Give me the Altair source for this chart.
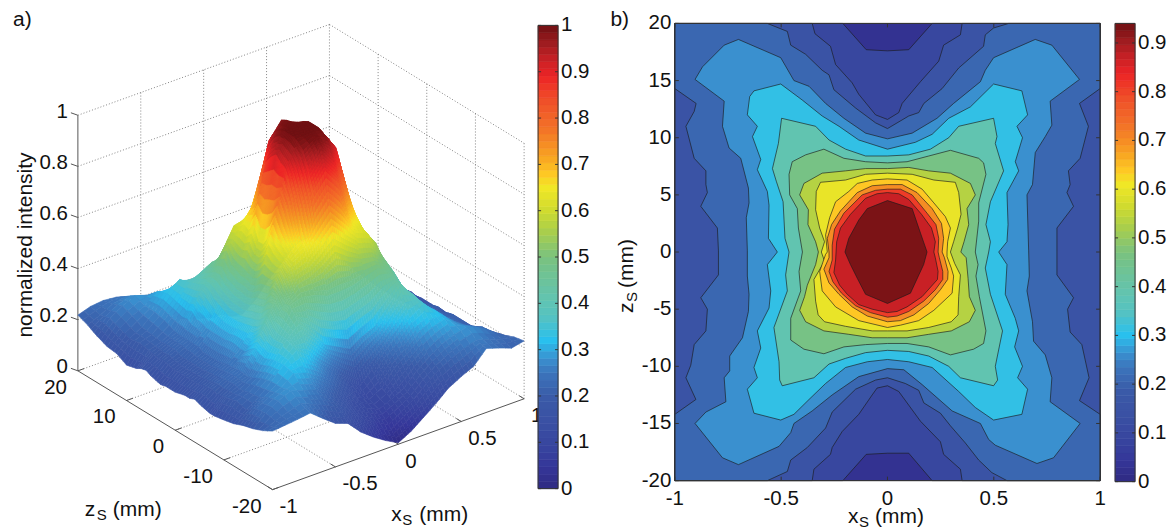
import altair as alt
import pandas as pd
import numpy as np

# ---------- colour map (value on 0..1 -> colour)
CMAP_VALUES = [0, .05, .1, .15, .2, .25, .28, .32, .37, .4, .45, .5, .55, .6, .65, .68, .72, .78, .84, .89, .93, .96, 1]
CMAP_COLORS = ["#2f2a82", "#35379a", "#38479f", "#3a51a4", "#3a5ba8", "#3b75bc", "#3a90cf", "#29c0ee", "#55c2c2",
               "#5fc4b5", "#6cc39b", "#7ac27f", "#a5cd4f", "#cfdb2f", "#f1e726", "#fec824", "#f7a022", "#f37028",
               "#ef4e29", "#ed2426", "#c32025", "#a01c20", "#6e1012"]
CS = alt.Scale(domain=CMAP_VALUES, range=CMAP_COLORS, interpolate="rgb", clamp=True)
MAX_B = 0.94

# ---------- surface samples of normalized intensity
XS = [-1, -.9, -.8, -.7, -.6, -.5, -.4, -.3, -.2, -.1, 0, .1, .2, .3, .4, .5, .6, .7, .8, .9, 1]
ZS = [20, 18, 16, 14, 12, 10, 8, 7, 6, 5, 4, 3, 2, 1, 0, -1, -2, -3, -4, -5, -6, -7, -8, -10, -12, -14, -16, -18, -20]
SURFACE = [
 [.205,.22,.225,.22,.2,.175,.14,.105,.06,.04,.03,.04,.065,.11,.145,.18,.205,.215,.22,.215,.2],
 [.19,.21,.235,.245,.225,.205,.18,.15,.105,.07,.05,.075,.11,.15,.185,.21,.23,.245,.23,.21,.185],
 [.17,.22,.25,.27,.255,.24,.205,.175,.13,.105,.09,.11,.13,.18,.21,.245,.26,.27,.25,.22,.17],
 [.155,.205,.235,.255,.29,.275,.24,.205,.165,.125,.10,.125,.17,.21,.245,.28,.295,.26,.24,.205,.15],
 [.15,.19,.215,.255,.305,.34,.305,.255,.22,.165,.13,.165,.22,.26,.31,.34,.31,.26,.22,.19,.135],
 [.13,.195,.21,.245,.295,.35,.375,.345,.295,.265,.24,.27,.30,.35,.38,.355,.30,.25,.215,.195,.125],
 [.14,.19,.205,.23,.285,.365,.43,.43,.415,.41,.41,.415,.42,.435,.435,.37,.29,.235,.21,.19,.13],
 [.15,.185,.205,.225,.295,.375,.445,.49,.50,.505,.51,.505,.50,.495,.45,.38,.30,.23,.21,.185,.14],
 [.155,.18,.205,.225,.275,.365,.485,.57,.58,.64,.68,.64,.585,.575,.49,.37,.28,.23,.21,.18,.135],
 [.145,.185,.205,.225,.275,.345,.505,.575,.625,.78,.83,.78,.63,.58,.51,.35,.28,.23,.21,.185,.14],
 [.14,.18,.195,.225,.265,.335,.465,.595,.68,.87,.93,.87,.68,.60,.47,.34,.27,.23,.20,.18,.135],
 [.135,.175,.195,.225,.265,.325,.455,.585,.74,.91,.94,.91,.74,.59,.46,.33,.27,.23,.20,.175,.14],
 [.14,.175,.195,.215,.265,.315,.445,.615,.83,.93,.94,.93,.83,.62,.45,.32,.27,.22,.20,.175,.135],
 [.14,.175,.195,.215,.265,.315,.445,.565,.86,.94,.94,.94,.86,.57,.45,.32,.27,.22,.20,.175,.14],
 [.14,.175,.195,.215,.265,.315,.435,.565,.88,.94,.94,.94,.88,.57,.44,.32,.27,.22,.20,.175,.14],
 [.145,.175,.195,.215,.27,.32,.44,.60,.86,.94,.94,.94,.87,.62,.44,.325,.27,.22,.195,.175,.14],
 [.15,.175,.20,.22,.27,.325,.46,.66,.85,.93,.94,.93,.86,.66,.46,.33,.27,.22,.195,.175,.135],
 [.15,.18,.20,.225,.265,.33,.465,.62,.79,.91,.94,.91,.80,.62,.46,.33,.27,.225,.20,.18,.14],
 [.158,.185,.205,.225,.265,.34,.47,.60,.70,.86,.92,.86,.70,.60,.47,.34,.265,.225,.205,.185,.135],
 [.15,.19,.21,.23,.285,.36,.505,.575,.62,.78,.84,.78,.62,.575,.51,.36,.285,.23,.21,.19,.14],
 [.145,.18,.21,.23,.30,.40,.47,.565,.59,.645,.70,.645,.59,.57,.48,.40,.30,.235,.21,.18,.135],
 [.14,.185,.21,.225,.29,.37,.44,.495,.505,.53,.565,.53,.505,.495,.46,.38,.29,.23,.21,.19,.14],
 [.14,.19,.205,.23,.285,.36,.445,.46,.45,.43,.43,.435,.45,.465,.44,.36,.29,.235,.21,.195,.135],
 [.147,.20,.215,.25,.30,.36,.40,.35,.29,.265,.24,.27,.29,.345,.40,.36,.30,.25,.215,.195,.125],
 [.155,.19,.22,.26,.305,.34,.305,.255,.215,.165,.125,.17,.22,.26,.31,.34,.305,.26,.22,.195,.14],
 [.17,.215,.24,.26,.295,.28,.25,.215,.175,.125,.10,.125,.18,.215,.255,.28,.295,.26,.235,.215,.165],
 [.18,.22,.25,.27,.255,.24,.205,.17,.13,.105,.085,.105,.13,.175,.21,.24,.26,.27,.25,.22,.19],
 [.195,.215,.23,.245,.225,.205,.18,.145,.105,.075,.05,.08,.11,.15,.185,.21,.23,.245,.23,.215,.205],
 [.215,.22,.225,.232,.195,.16,.143,.095,.06,.03,.005,.03,.065,.10,.14,.165,.187,.235,.22,.203,.213],
]

# ---------- filled contour regions: value of the band and its (xs, zs) outline
BAND_VALUES = [.095, .15, .21, .263, .31, .385, .46, .535, .6, .64, .70, .81, .87, .93]
BASE_VALUE = .03
C01 = [(-1,20),(-.21,20),(-.10,17.7),(0,17.6),(.10,17.7),(.21,20),(1,20),(1,-20),(.21,-20),(.10,-17.6),(0,-17.6),(-.10,-17.7),(-.21,-20),(-1,-20)]
C02 = [(-1,20),(-.354,20),(-.341,19.1),(-.268,18),(-.244,16.4),(-.166,14.8),(-.135,13.8),(-.056,12),(0,11.6),(.053,12.2),(.069,13),(.155,14.9),(.241,16.7),(.264,18.1),(.343,19),(.351,20),(1,20),(1,-20),(.351,-20),(.343,-19),(.264,-17.7),(.249,-16.6),(.155,-14.8),(.053,-12.2),(0,-11.7),(-.049,-11.9),(-.072,-12.5),(-.135,-14.2),(-.213,-15.7),(-.26,-17.1),(-.268,-17.7),(-.346,-19),(-.354,-20),(-1,-20)]
C03 = [(-1,20),(-.565,20),(-.471,19.3),(-.455,18.1),(-.385,17.3),(-.307,15.9),(-.275,15.5),(-.252,14.2),(-.15,12.6),(-.056,11.3),(0,10.8),(.10,11.9),(.147,12.2),(.171,13),(.257,14.3),(.335,16.1),(.452,18),(.46,19),(.499,19.6),(.57,20),(1,20),(1,14.3),(.903,13),(.945,11),(.906,8.2),(.851,7.1),(.859,5.9),(.844,5.2),(.875,4),(.797,2.1),(.797,.1),(.797,-2),(.875,-4),(.847,-5),(.859,-7),(.914,-8.1),(.948,-11),(.903,-13),(1,-14.2),(1,-20),(.562,-20),(.491,-19.3),(.429,-18.2),(.366,-16.7),(.296,-15.2),(.249,-14.1),(.171,-13.2),(.147,-12.1),(.084,-11.5),(0,-11),(-.056,-11.2),(-.15,-12),(-.26,-14),(-.291,-15.4),(-.377,-17.1),(-.455,-18.2),(-.471,-19.2),(-.565,-20),(-1,-20),(-1,-14.2),(-.901,-12.9),(-.948,-11),(-.925,-9.9),(-.909,-8.1),(-.854,-6.9),(-.847,-5),(-.878,-4),(-.795,-2),(-.795,.1),(-.80,2.1),(-.878,4),(-.847,5.2),(-.854,5.9),(-.854,7.1),(-.909,8.2),(-.948,11),(-.909,12.3),(-.90,13),(-1,14.3)]
C04 = [(-.905,15.1),(-.87,16.2),(-.768,18.1),(-.701,18.6),(-.502,17),(-.44,15),(-.369,14.5),(-.291,13),(-.205,11.7),(-.103,10.4),(0,9.9),(.116,10.4),(.233,11.7),(.311,13),(.437,14.9),(.46,15.9),(.499,17),(.695,18.6),(.773,18.1),(.903,15.1),(.765,13.2),(.773,11.1),(.742,10.1),(.695,8.7),(.682,5.9),(.656,5),(.664,.1),(.667,-2.1),(.656,-3.4),(.682,-6.1),(.687,-7.8),(.742,-9),(.773,-11),(.765,-13.1),(.906,-15),(.781,-18),(.703,-18.5),(.507,-16.9),(.476,-16.4),(.437,-15),(.304,-13.9),(.163,-11.6),(.077,-10.3),(0,-10.2),(-.135,-10.9),(-.26,-12.5),(-.354,-13.9),(-.44,-15),(-.455,-15.8),(-.51,-17),(-.701,-18.6),(-.776,-18),(-.905,-15),(-.854,-14),(-.76,-13.1),(-.768,-11),(-.742,-10.4),(-.742,-9.1),(-.682,-7.5),(-.654,-5.2),(-.651,-3.7),(-.659,-2.1),(-.659,.1),(-.664,3),(-.651,4.3),(-.654,5.6),(-.69,8.2),(-.745,9.1),(-.776,11),(-.768,13.2)]
C05 = [(-.628,14.1),(-.502,14.7),(-.401,13.3),(-.307,11.9),(-.228,11),(-.135,9.8),(0,9),(.131,9.6),(.21,10.3),(.288,11.7),(.39,12.7),(.499,14.7),(.632,14.1),(.659,12),(.609,11),(.635,10),(.601,7.9),(.617,7.1),(.562,5.2),(.567,2.4),(.562,.9),(.523,0),(.562,-1.1),(.554,-3.7),(.601,-5.8),(.617,-6.9),(.598,-8.3),(.635,-10),(.612,-11),(.659,-12),(.632,-14.2),(.499,-14.7),(.413,-13.6),(.335,-12.2),(.21,-10.1),(.10,-9.6),(0,-9.4),(-.095,-9.6),(-.197,-10.1),(-.291,-11.5),(-.369,-12.9),(-.44,-14.2),(-.502,-14.7),(-.628,-14.1),(-.659,-12),(-.612,-11),(-.628,-10.1),(-.596,-8.4),(-.612,-6.9),(-.557,-4.9),(-.549,-3.4),(-.565,-1.1),(-.518,0),(-.56,1.2),(-.557,4.1),(-.565,5.3),(-.612,7.2),(-.596,8.1),(-.635,10.1),(-.612,11),(-.659,12),(-.648,13.6)]
C06 = [(-.498,11.7),(-.338,11),(-.275,9.8),(-.197,9),(-.103,8.4),(0,8.4),(.10,8.5),(.202,9),(.288,10),(.335,11),(.499,11.7),(.515,10.1),(.507,9.5),(.546,7.1),(.484,4.4),(.463,2.4),(.484,.9),(.476,0),(.46,-1.4),(.484,-3.7),(.541,-6.9),(.507,-10),(.518,-11.2),(.499,-11.7),(.343,-11),(.288,-10),(.194,-9.1),(.10,-8.7),(0,-8.6),(-.103,-8.8),(-.197,-9.3),(-.275,-9.8),(-.346,-11),(-.495,-11.7),(-.507,-11.2),(-.51,-9.6),(-.534,-6.6),(-.471,-3.4),(-.479,-2),(-.463,0),(-.482,1.2),(-.491,4.4),(-.523,6.2),(-.541,7.3),(-.513,9.5)]
C07 = [(-.448,7.9),(-.385,8.5),(-.299,9),(-.205,8.2),(-.103,7.9),(0,7.8),(.092,7.9),(.194,8.4),(.296,8.9),(.429,8.2),(.452,7.8),(.463,6.8),(.429,4.3),(.429,2.7),(.413,0),(.426,-1.1),(.416,-2.1),(.432,-3.9),(.463,-6.9),(.452,-8),(.405,-8.5),(.296,-9),(.194,-8.3),(.092,-8),(0,-8),(-.103,-8.1),(-.205,-8.3),(-.299,-8.9),(-.393,-8.5),(-.455,-7.7),(-.455,-5.8),(-.408,-3.4),(-.416,-1.7),(-.40,0),(-.419,2.1),(-.424,3.8),(-.46,5),(-.463,6.8)]
C08 = [(-.393,6),(-.307,6.9),(-.197,7.1),(-.103,7.3),(0,7.3),(.10,7.4),(.194,7.1),(.296,6.9),(.39,6),(.413,5),(.374,3.8),(.382,2.4),(.36,.9),(.345,0),(.37,-.5),(.379,-2.3),(.385,-3.9),(.413,-5.1),(.385,-6.1),(.30,-6.9),(.194,-7.2),(.092,-7.5),(0,-7.5),(-.072,-7.5),(-.182,-7.2),(-.299,-6.9),(-.385,-6.1),(-.413,-5.1),(-.39,-3.9),(-.377,-2.9),(-.338,-1.1),(-.325,0),(-.338,.9),(-.374,2.4),(-.372,3.7),(-.413,5)]
C09 = [(-.315,6.1),(-.197,6.3),(-.103,6.8),(0,6.9),(.116,6.8),(.218,6.3),(.319,6.1),(.335,5.2),(.346,3.3),(.33,2.1),(.311,.9),(.296,0),(.316,-1),(.343,-2),(.335,-3.9),(.332,-5.5),(.30,-6.1),(.194,-6.6),(.092,-6.9),(0,-6.9),(-.072,-6.9),(-.197,-6.5),(-.296,-6.1),(-.326,-5.5),(-.338,-4.3),(-.346,-2.4),(-.296,-.8),(-.311,0),(-.296,.9),(-.319,2.1),(-.338,3.7),(-.335,5.3)]
C10 = [(-.142,6),(-.072,6.3),(0,6.4),(.092,6.3),(.163,5.5),(.218,4.3),(.272,3.1),(.296,2.1),(.283,.9),(.28,0),(.28,-.4),(.30,-1.4),(.311,-2.1),(.304,-3.6),(.218,-5.1),(.147,-6),(.061,-6.4),(0,-6.6),(-.135,-6),(-.244,-4.8),(-.307,-3.4),(-.319,-1.7),(-.291,-.2),(-.283,0),(-.291,1.5),(-.272,3),(-.244,4.4),(-.182,5.3)]
C11 = [(-.142,5.2),(-.072,5.8),(0,5.9),(.069,5.9),(.139,5.2),(.21,3.8),(.254,2.5),(.264,1.2),(.257,0),(.268,-.5),(.285,-1.7),(.283,-2.4),(.249,-3.3),(.194,-4.5),(.124,-5.5),(.061,-6),(0,-6.1),(-.095,-5.6),(-.166,-4.8),(-.228,-3.7),(-.275,-2.7),(-.299,-1.5),(-.275,-.5),(-.275,0),(-.283,1.2),(-.263,2.4),(-.221,3.6)]
C12 = [(-.119,5),(-.056,5.4),(0,5.5),(.061,5.5),(.116,5),(.186,3.4),(.228,2.4),(.241,1.2),(.238,0),(.244,-.5),(.26,-1.7),(.26,-2.4),(.225,-3.3),(.17,-4.3),(.10,-5.2),(.045,-5.6),(0,-5.7),(-.08,-5.3),(-.15,-4.7),(-.216,-3.6),(-.257,-2.6),(-.275,-1.7),(-.26,-.7),(-.26,.6),(-.249,2),(-.205,3.4)]
C13 = [(-.103,4.7),(-.049,5.1),(0,5.2),(.053,5.1),(.10,4.6),(.16,3.3),(.207,2.1),(.225,.9),(.218,0),(.225,-.5),(.238,-1.7),(.235,-2.4),(.163,-3.9),(.092,-4.8),(.045,-5.2),(0,-5.3),(-.072,-5),(-.135,-4.6),(-.189,-3.7),(-.225,-2.9),(-.252,-1.8),(-.244,-.7),(-.239,.9),(-.221,2.1),(-.174,3.3)]
C14 = [(-.095,3.8),(0,4.5),(.116,3.8),(.147,2.1),(.186,0),(.17,-1.1),(.108,-3.6),(0,-4.5),(-.103,-3.7),(-.142,-2.3),(-.174,-1.1),(-.20,0),(-.182,1.2),(-.135,2.8)]
CONTOURS = [C01, C02, C03, C04, C05, C06, C07, C08, C09, C10, C11, C12, C13, C14]

# ---------- tick labels
I_TICKS = [0, .2, .4, .6, .8, 1]
ZS_TICKS = [20, 10, 0, -10, -20]
XS_TICKS = [-1, -.5, 0, .5, 1]
BAR_TICKS = [0, .1, .2, .3, .4, .5, .6, .7, .8, .9]
B_ZTICKS = [-20, -15, -10, -5, 0, 5, 10, 15, 20]
FONT = "Liberation Sans"
INK = "#333333"
TICK_FS = 20.5
TITLE_FS = 21
SUB_FS = 15

# ---------- oblique view of the 3-D box, in page pixels
FRONT = np.array([273.0, 489.0])   # xs=-1, zs=-20, I=0
PER_XS = np.array([126.0, -45.5])
PER_ZS = np.array([-4.875, -2.975])
PER_I = np.array([0.0, -256.0])

def proj(xs, zs, i=0.0):
    p = FRONT + PER_XS * (xs + 1) + PER_ZS * (zs + 20) + PER_I * i
    return float(p[0]), float(p[1])

SX = alt.Scale(domain=[8, 539], range=[0, 531])
SY = alt.Scale(domain=[22, 480], range=[0, 458])
PX = alt.X("x:Q", scale=SX, axis=None)
PY = alt.Y("y:Q", scale=SY, axis=None)

# surface facets, back to front; each cell between samples is painted in fine
# facets to render interpolated shading over the read samples
rows = []
qid = 0
def blend(a, b, c, d, u, v):
    return (a * (1 - u) + b * u) * (1 - v) + (d * (1 - u) + c * u) * v

for r in range(len(ZS) - 1):
    for c in range(len(XS) - 2, -1, -1):
        za, zb, zc, zd = SURFACE[r][c], SURFACE[r][c + 1], SURFACE[r + 1][c + 1], SURFACE[r + 1][c]
        spread = (max(za, zb, zc, zd) - min(za, zb, zc, zd)) / MAX_B
        n = int(min(6, max(2, np.ceil(spread / 0.025))))
        for jv in range(n):
            for ju in range(n - 1, -1, -1):
                uv = [(ju / n, jv / n), ((ju + 1) / n, jv / n), ((ju + 1) / n, (jv + 1) / n), (ju / n, (jv + 1) / n)]
                vals = [blend(za, zb, zc, zd, u, v) / MAX_B for u, v in uv]
                mean = sum(vals) / 4
                for k, ((u, v), h) in enumerate(zip(uv + uv[:1], vals + vals[:1])):
                    x, y = proj(XS[c] + u * (XS[c + 1] - XS[c]), ZS[r] + v * (ZS[r + 1] - ZS[r]), h)
                    rows.append({"x": round(x, 1), "y": round(y, 1), "q": qid, "k": k, "c": round(mean, 3)})
                qid += 1
surf = alt.Chart(pd.DataFrame(rows)).mark_line(strokeWidth=0.6, strokeJoin="round").encode(
    x=PX, y=PY, detail="q:N", order="k:Q",
    fill=alt.Fill("c:Q", scale=CS, legend=None),
    stroke=alt.Stroke("c:Q", scale=CS, legend=None))

def polyline_rows(segments):
    out = []
    for sid, seg in enumerate(segments):
        for k, (x, y) in enumerate(seg):
            out.append({"x": x, "y": y, "s": sid, "k": k})
    return pd.DataFrame(out)

# dotted box grid
seg = []
for i in I_TICKS:
    seg.append([proj(-1, 20, i), proj(1, 20, i)])
    seg.append([proj(1, 20, i), proj(1, -20, i)])
for xs in XS_TICKS[1:]:
    seg.append([proj(xs, 20, 0), proj(xs, 20, 1)])
for zs in ZS_TICKS[1:]:
    seg.append([proj(1, zs, 0), proj(1, zs, 1)])
for xs in XS_TICKS[1:-1]:
    seg.append([proj(xs, -20, 0), proj(xs, 20, 0)])
for zs in ZS_TICKS[1:-1]:
    seg.append([proj(-1, zs, 0), proj(1, zs, 0)])
grid = alt.Chart(polyline_rows(seg)).mark_line(color="#777777", strokeWidth=0.9, strokeDash=[1, 2]).encode(
    x=PX, y=PY, detail="s:N", order="k:Q")

# solid box axes with their ticks
seg = [[proj(-1, 20, 1), proj(-1, 20, 0), proj(-1, -20, 0), proj(1, -20, 0)]]
for i in I_TICKS:
    p = proj(-1, 20, i)
    seg.append([p, (p[0] - 7, p[1] - 2.5)])
for zs in ZS_TICKS:
    seg.append([proj(-1, zs), proj(-0.95, zs)])
for xs in XS_TICKS:
    seg.append([proj(xs, -20), proj(xs, -19)])
axes3d = alt.Chart(polyline_rows(seg)).mark_line(color="#555555", strokeWidth=1).encode(
    x=PX, y=PY, detail="s:N", order="k:Q")

def text_layer(items, align, baseline="middle", size=TICK_FS, angle=None):
    kw = dict(align=align, baseline=baseline, font=FONT, fontSize=size, color="#111111")
    if angle is not None:
        kw["angle"] = angle
    df = pd.DataFrame([{"x": x, "y": y, "t": t} for x, y, t in items])
    return alt.Chart(df).mark_text(**kw).encode(x=PX, y=PY, text="t:N")

right_items = []
for i in I_TICKS:
    p = proj(-1, 20, i)
    right_items.append((p[0] - 10, p[1] - 3.5, f"{i:g}"))
for zs in ZS_TICKS:
    p = proj(-1, zs)
    right_items.append((p[0] - 11, p[1] + 17, f"{zs:g}"))
left_items = []
for xs in XS_TICKS:
    p = proj(xs, -20)
    left_items.append((p[0] + 7, p[1] + 17.5, f"{xs:g}"))

t_right = text_layer(right_items, "right")
t_left = text_layer(left_items, "left")
t_misc = text_layer([(13, 25, "a)"), (85, 515, "z"), (113, 515, "(mm)"), (392, 520.5, "x"), (420, 520.5, "(mm)")],
                    "left", baseline="alphabetic", size=TITLE_FS)
t_sub = text_layer([(97, 519, "S"), (403, 524, "S")], "left", baseline="alphabetic", size=SUB_FS)
t_y = text_layer([(32, 244, "normalized intensity")], "center", baseline="alphabetic", size=TITLE_FS, angle=270)

left = alt.layer(grid, axes3d, surf, t_right, t_left, t_misc, t_sub, t_y).properties(width=531, height=458)

# ---------- colour bars
def colorbar(top_value, h, rng, ticks, cmap_div):
    edges = np.linspace(0, top_value, 65)
    df = pd.DataFrame({"lo": edges[:-1], "hi": edges[1:]})
    df["mid"] = (df.lo + df.hi) / 2 / cmap_div
    sc = alt.Scale(domain=[0, top_value], range=rng, nice=False, zero=False)
    Y = alt.Y("lo:Q", scale=sc, axis=None)
    bands = alt.Chart(df).mark_rect(strokeWidth=0.6).encode(
        y=Y, y2="hi:Q", x=alt.value(0), x2=alt.value(20),
        color=alt.Color("mid:Q", scale=CS, legend=None),
        stroke=alt.Stroke("mid:Q", scale=CS, legend=None))
    tk = pd.DataFrame({"v": ticks, "t": [f"{v:g}" for v in ticks]})
    Yt = alt.Y("v:Q", scale=sc, axis=None)
    t1 = alt.Chart(tk).mark_rule(color=INK, strokeWidth=1).encode(y=Yt, x=alt.value(0), x2=alt.value(3))
    t2 = alt.Chart(tk).mark_rule(color=INK, strokeWidth=1).encode(y=Yt, x=alt.value(17), x2=alt.value(20))
    lab = alt.Chart(tk).mark_text(align="left", baseline="middle", font=FONT, fontSize=TICK_FS, color="#111111").encode(
        y=Yt, x=alt.value(23), text="t:N")
    fr = pd.DataFrame({"a": [0], "b": [top_value]})
    frame = alt.Chart(fr).mark_rect(fill=None, stroke=INK, strokeWidth=1).encode(
        y=alt.Y("a:Q", scale=sc, axis=None), y2="b:Q", x=alt.value(0), x2=alt.value(20))
    return alt.layer(bands, t1, t2, frame, lab).properties(width=20, height=h)

cb1 = colorbar(1, 466, [466, 2], BAR_TICKS + [1], 1)
cb2 = colorbar(MAX_B, 459, [459, 0], BAR_TICKS, MAX_B)

# ---------- contour panel
BW, BH = 426, 458
BX = alt.Scale(domain=[-1, 1], nice=False, zero=False)
BZ = alt.Scale(domain=[-20, 20], nice=False, zero=False)
rows = []
for k, (px, pz) in enumerate([(-1, -20), (1, -20), (1, 20), (-1, 20), (-1, -20)]):
    rows.append({"xs": px, "zs": pz, "band": 0, "k": k, "v": BASE_VALUE / MAX_B})
for b, poly in enumerate(CONTOURS, start=1):
    for k, (px, pz) in enumerate(list(poly) + [poly[0]]):
        rows.append({"xs": px, "zs": pz, "band": b, "k": k, "v": BAND_VALUES[b - 1] / MAX_B})
poly_chart = alt.Chart(pd.DataFrame(rows)).mark_line(stroke="#1a1a1a", strokeWidth=0.75, strokeOpacity=0.85).encode(
    x=alt.X("xs:Q", scale=BX, axis=None), y=alt.Y("zs:Q", scale=BZ, axis=None),
    detail="band:N", order="k:Q", fill=alt.Fill("v:Q", scale=CS, legend=None))
xt = pd.DataFrame({"v": XS_TICKS, "t": [f"{v:g}" for v in XS_TICKS]})
yt = pd.DataFrame({"v": B_ZTICKS, "t": [f"{v:g}" for v in B_ZTICKS]})
XT = alt.X("v:Q", scale=BX, axis=None)
YT = alt.Y("v:Q", scale=BZ, axis=None)
ticks_b = [
    alt.Chart(xt).mark_rule(color=INK).encode(x=XT, y=alt.value(BH), y2=alt.value(BH - 4)),
    alt.Chart(xt).mark_rule(color=INK).encode(x=XT, y=alt.value(0), y2=alt.value(4)),
    alt.Chart(yt).mark_rule(color=INK).encode(y=YT, x=alt.value(0), x2=alt.value(4)),
    alt.Chart(yt).mark_rule(color=INK).encode(y=YT, x=alt.value(BW), x2=alt.value(BW - 4)),
    alt.Chart(xt).mark_text(align="center", baseline="middle", font=FONT, fontSize=TICK_FS, color="#111111").encode(
        x=XT, y=alt.value(BH + 18), text="t:N"),
    alt.Chart(yt).mark_text(align="right", baseline="middle", font=FONT, fontSize=TICK_FS, color="#111111").encode(
        y=YT, x=alt.value(-3.5), text="t:N"),
]
frame_b = alt.Chart(pd.DataFrame({"a": [-1], "b": [1], "c": [-20], "d": [20]})).mark_rect(
    fill=None, stroke=INK, strokeWidth=1).encode(x=alt.X("a:Q", scale=BX, axis=None), x2="b:Q",
                                                 y=alt.Y("c:Q", scale=BZ, axis=None), y2="d:Q")

def value_text(items, size=TITLE_FS, align="left", angle=None):
    kw = dict(align=align, baseline="alphabetic", font=FONT, fontSize=size, color="#111111")
    if angle is not None:
        kw["angle"] = angle
    layers = []
    for x, y, t in items:
        layers.append(alt.Chart(pd.DataFrame({"t": [t]})).mark_text(**kw).encode(
            x=alt.value(x), y=alt.value(y), text="t:N"))
    return layers

OX, OY = 675.5, 22
txt_b = (value_text([(611 - OX, 25 - OY, "b)"), (849 - OX, 522 - OY, "x"), (876 - OX, 522 - OY, "(mm)")])
         + value_text([(860 - OX, 526 - OY, "S")], size=SUB_FS)
         + value_text([(634 - OX, 312 - OY, "z"), (634 - OX, 287 - OY, "(mm)")], angle=270)
         + value_text([(637.5 - OX, 301 - OY, "S")], size=SUB_FS, angle=270))
contour = alt.layer(poly_chart, frame_b, *ticks_b, *txt_b).properties(width=BW, height=BH)

def spacer(w):
    return alt.Chart(pd.DataFrame({"a": [0]})).mark_point(opacity=0).encode(
        x=alt.value(0), y=alt.value(0)).properties(width=w, height=10)

chart = alt.hconcat(left, cb1, spacer(116.5), contour, spacer(14.5), cb2, spacing=0).properties(
    bounds="flush", background="white", padding={"left": 0, "top": 1, "right": 0, "bottom": 0}
).configure_view(stroke=None)

chart.save("out.html", embed_options={"renderer": "svg", "actions": False})
